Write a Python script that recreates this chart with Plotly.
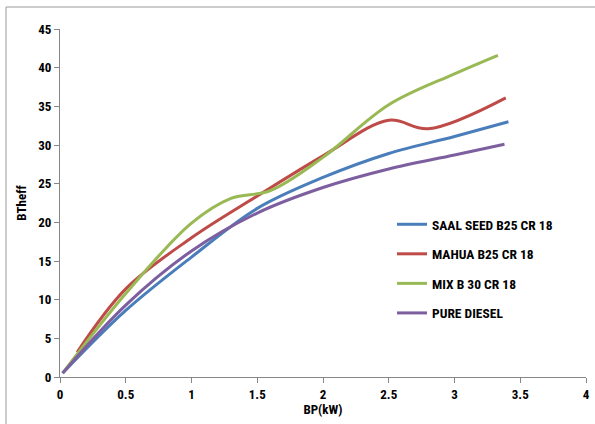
import plotly.graph_objects as go

saal_x = [0.02, 0.5, 1.0, 1.5, 2.0, 2.5, 3.0, 3.41]
saal_y = [0.5, 8.6, 15.5, 21.8, 25.8, 28.9, 31.1, 33.0]

mahua_x = [0.13, 0.5, 1.0, 1.5, 2.0, 2.5, 2.8, 3.39]
mahua_y = [3.2, 11.4, 18.0, 23.4, 28.6, 33.2, 32.1, 36.1]

mix_x = [0.02, 0.5, 1.0, 1.3, 1.6, 2.0, 2.5, 3.0, 3.33]
mix_y = [0.5, 10.8, 19.9, 23.1, 24.1, 28.4, 35.2, 39.2, 41.6]

diesel_x = [0.02, 0.5, 1.0, 1.5, 2.0, 2.5, 3.0, 3.38]
diesel_y = [0.5, 9.3, 16.3, 21.2, 24.5, 26.9, 28.7, 30.1]

names = ["SAAL SEED B25 CR 18", "MAHUA B25 CR 18", "MIX B 30 CR 18", "PURE DIESEL"]
colors = ["#4A7EBB", "#BE4B48", "#98B954", "#7D5FA0"]
series = [(saal_x, saal_y), (mahua_x, mahua_y), (mix_x, mix_y), (diesel_x, diesel_y)]

x_ticks = [0, 0.5, 1, 1.5, 2, 2.5, 3, 3.5, 4]
y_ticks = [0, 5, 10, 15, 20, 25, 30, 35, 40, 45]

FONT = "Liberation Sans Narrow, Roboto Condensed, Liberation Sans, Arial"

fig = go.Figure()
for i, ((xs, ys), n, c) in enumerate(zip(series, names, colors)):
    fig.add_trace(go.Scatter(x=xs, y=ys, name=n, mode="lines", legendgroup=f"g{i}",
                             line=dict(color=c, width=3, shape="spline", smoothing=1.0)))

fig.update_layout(
    width=595, height=424,
    margin=dict(l=60, r=9, t=29, b=47),
    paper_bgcolor="white", plot_bgcolor="white",
    font=dict(family=FONT, size=13, color="black"),
    showlegend=True,
    legend=dict(x=(392 - 60) / 526, y=(377 - 209) / 348, xanchor="left", yanchor="top",
                bgcolor="rgba(0,0,0,0)", tracegroupgap=9,
                font=dict(family=FONT, size=13.5, color="black", weight="bold"),
                itemwidth=30),
    xaxis=dict(range=[0, 4], tickvals=x_ticks, ticktext=[str(v) for v in x_ticks],
               showgrid=False, zeroline=False, showline=True, linecolor="#868686", linewidth=1,
               ticks="outside", ticklen=5, tickcolor="#868686", automargin=False,
               ticklabeloverflow="allow",
               tickfont=dict(family=FONT, size=13, weight="bold"),
               title=dict(text="<b>BP(kW)</b>", standoff=3, font=dict(family=FONT, size=13))),
    yaxis=dict(range=[0, 45], tickvals=y_ticks, ticktext=[str(v) for v in y_ticks],
               showgrid=False, zeroline=False, showline=True, linecolor="#868686", linewidth=1,
               ticks="outside", ticklen=5, tickcolor="#868686", automargin=False,
               ticklabeloverflow="allow",
               tickfont=dict(family=FONT, size=13, weight="bold"),
               title=dict(text="<b>BTheff</b>", standoff=8, font=dict(family=FONT, size=13))),
    shapes=[dict(type="rect", xref="paper", yref="paper",
                 x0=(6 - 60) / 526, x1=(600 - 60) / 526,
                 y0=(377 - 430) / 348, y1=(377 - 7) / 348,
                 line=dict(color="#9a9a9a", width=1), layer="below")],
)

fig.write_html("out.html", config={"displayModeBar": False},
               post_script="document.body.style.margin='0';")
